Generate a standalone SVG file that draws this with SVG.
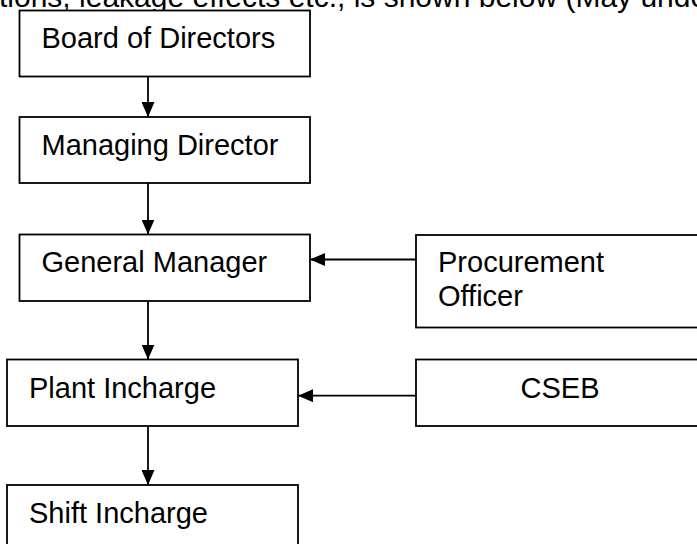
<svg xmlns="http://www.w3.org/2000/svg" width="697" height="544" viewBox="0 0 697 544">
<defs>
<style>
.box{fill:#fff;stroke:#000;stroke-width:1.8}
.t{font-family:"Liberation Sans",Arial,sans-serif;font-size:29px;fill:#000}
.c{stroke:#000;stroke-width:1.8;fill:none}
</style>
<marker id="ah" viewBox="0 0 15 13" refX="15" refY="6.5" markerWidth="15" markerHeight="13" markerUnits="userSpaceOnUse" orient="auto">
<path d="M0,0 L15,6.5 L0,13 Z" fill="#000"/>
</marker>
</defs>
<rect width="697" height="544" fill="#fff"/>
<text class="t" x="-1" y="7" style="font-size:30px">tions, leakage effects etc., is shown below (May unde</text>
<g id="connectors">
<line class="c" x1="148" y1="76.5" x2="148" y2="117" marker-end="url(#ah)"/>
<line class="c" x1="148" y1="183" x2="148" y2="234.5" marker-end="url(#ah)"/>
<line class="c" x1="148" y1="301" x2="148" y2="359.5" marker-end="url(#ah)"/>
<line class="c" x1="148" y1="426" x2="148" y2="485" marker-end="url(#ah)"/>
<line class="c" x1="416" y1="259.5" x2="310" y2="259.5" marker-end="url(#ah)"/>
<line class="c" x1="416" y1="395.7" x2="298" y2="395.7" marker-end="url(#ah)"/>
</g>
<g id="board">
<rect class="box" x="19.5" y="10.5" width="290.5" height="66"/>
<text class="t" x="41.5" y="48.3">Board of Directors</text>
</g>
<g id="md">
<rect class="box" x="19.5" y="117" width="290.5" height="66"/>
<text class="t" x="41.5" y="155">Managing Director</text>
</g>
<g id="gm">
<rect class="box" x="19.5" y="234.5" width="290.5" height="66.5"/>
<text class="t" x="41.5" y="271.5">General Manager</text>
</g>
<g id="procurement">
<rect class="box" x="416" y="235" width="300" height="92.5"/>
<text class="t" x="438" y="271.5">Procurement</text>
<text class="t" x="438" y="305.5">Officer</text>
</g>
<g id="plant">
<rect class="box" x="7" y="359.5" width="291" height="66.5"/>
<text class="t" x="29" y="397.7">Plant Incharge</text>
</g>
<g id="cseb">
<rect class="box" x="416" y="359.5" width="300" height="66.5"/>
<text class="t" x="560" y="397.7" text-anchor="middle">CSEB</text>
</g>
<g id="shift">
<rect class="box" x="7" y="485" width="291" height="80"/>
<text class="t" x="29" y="523.3">Shift Incharge</text>
</g>
</svg>
